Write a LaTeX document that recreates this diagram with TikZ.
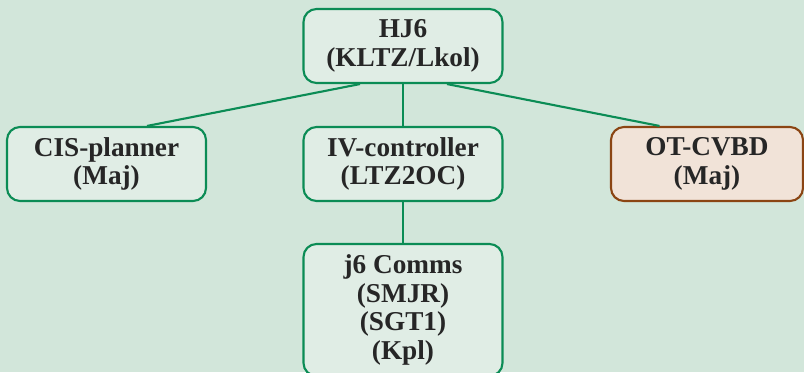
\documentclass[tikz,border=0pt]{standalone}
\usepackage{fontspec}
\setmainfont{Liberation Serif}
\usetikzlibrary{calc}
\definecolor{bggreen}{HTML}{D2E6DA}
\definecolor{boxfill}{HTML}{E0EDE5}
\definecolor{linegreen}{HTML}{0B8C55}
\definecolor{otfill}{HTML}{F1E3D8}
\definecolor{otline}{HTML}{8B4513}

\begin{document}
\begin{tikzpicture}[
    post/.style={rectangle, rounded corners=0.26cm, draw=linegreen, line width=1.2pt,
      fill=boxfill, minimum width=3.98cm, minimum height=1.48cm, inner ysep=0.2cm,
      align=center, font=\bfseries\fontsize{15.5}{16.4}\selectfont, text=black!85},
    link/.style={draw=linegreen, line width=1.2pt}
  ]
    \fill[bggreen] (0,0) rectangle (16.08,-7.44);
    \useasboundingbox (0,0) rectangle (16.08,-7.44);

    \node[post] (hj) at (8.06, -0.92) {HJ6\\(KLTZ/Lkol)};
    \node[post] (cis) at (2.13, -3.28) {CIS-planner\\(Maj)};
    \node[post] (iv) at (8.06, -3.28) {IV-controller\\(LTZ2OC)};
    \node[post, draw=otline, fill=otfill, minimum width=3.84cm] (ot) at (14.14, -3.28) {OT-CVBD\\(Maj)};
    \node[post, minimum height=2.64cm] (comms) at (8.06, -6.20) {j6 Comms\\(SMJR)\\(SGT1)\\(Kpl)};

    % 線を引く
    \draw[link] ($(hj.south)+(-0.86,0)$) -- ($(cis.north)+(0.81,0)$);
    \draw[link] ($(hj.south)+(0.88,0)$) -- ($(ot.north)+(-0.95,0)$);
    \draw[link] (hj) -- (iv);
    \draw[link] (iv) -- (comms);
  \end{tikzpicture}
\end{document}
